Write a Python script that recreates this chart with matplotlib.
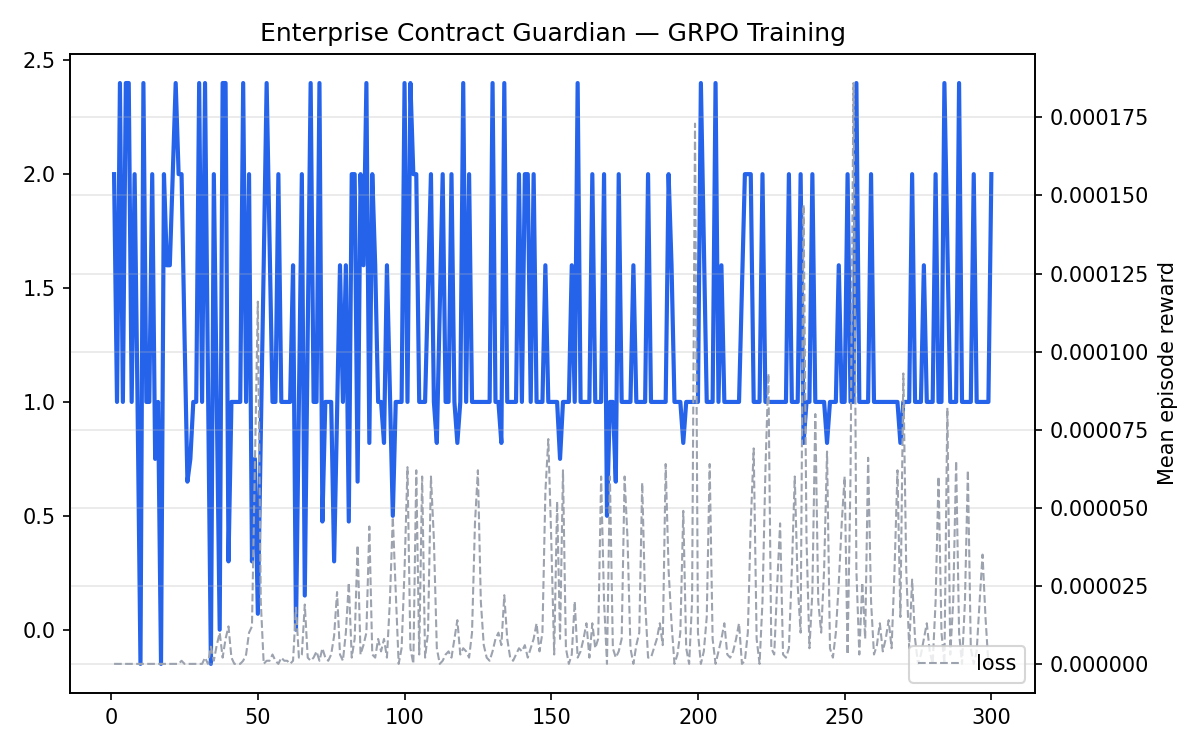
import matplotlib
matplotlib.use("Agg")
import matplotlib.pyplot as plt
from matplotlib.ticker import FormatStrFormatter
import numpy as np

steps = list(range(1, 301))

reward = [
    2.0, 1.0, 2.4, 1.0, 2.4, 2.4, 1.0, 2.0, 1.0, -0.15,
    2.4, 1.0, 1.0, 2.0, 0.75, 1.0, -0.15, 2.0, 1.6, 1.6,
    2.0, 2.4, 2.0, 2.0, 1.3, 0.65, 0.75, 1.0, 1.0, 2.4,
    1.0, 2.4, 1.1, -0.15, 2.0, 1.0, 0.0, 2.4, 2.4, 0.3,
    1.0, 1.0, 1.0, 1.0, 2.4, 1.0, 2.0, 0.3, 0.75, 0.07,
    0.85, 1.6, 2.4, 1.7, 1.0, 1.0, 2.0, 1.0, 1.0, 1.0,
    1.0, 1.6, 0.0, 1.0, 2.0, 0.15, 1.3, 2.4, 1.0, 1.0,
    2.4, 0.475, 1.0, 1.0, 1.0, 0.3, 0.95, 1.6, 1.0, 1.6,
    0.475, 2.0, 2.0, 0.65, 2.0, 1.6, 2.4, 0.82, 2.0, 1.6,
    1.0, 1.0, 0.82, 1.6, 1.05, 0.5, 1.0, 1.0, 1.0, 2.4,
    1.0, 2.4, 2.0, 2.0, 1.0, 1.0, 1.0, 1.5, 2.0, 1.0,
    0.82, 1.4, 2.0, 1.0, 1.0, 2.0, 1.0, 0.82, 1.0, 2.4,
    1.0, 2.0, 1.0, 1.0, 1.0, 1.0, 1.0, 1.0, 1.0, 2.4,
    1.0, 1.0, 0.82, 2.4, 1.0, 1.0, 1.0, 1.0, 2.0, 1.0,
    2.0, 2.0, 1.0, 2.0, 1.0, 1.0, 1.0, 1.6, 1.0, 1.0,
    1.0, 1.0, 0.75, 1.0, 1.0, 1.0, 1.6, 1.0, 2.4, 1.0,
    1.0, 1.0, 1.0, 2.0, 1.0, 1.0, 1.0, 2.0, 0.5, 1.0,
    1.0, 0.65, 2.0, 1.0, 1.0, 1.0, 1.0, 1.6, 1.0, 1.0,
    1.0, 1.0, 2.0, 1.0, 1.0, 1.0, 1.0, 1.0, 1.0, 2.0,
    1.6, 1.0, 1.0, 1.0, 0.82, 1.0, 1.0, 1.0, 1.0, 1.0,
    2.4, 1.7, 1.0, 1.0, 1.0, 2.4, 1.0, 1.6, 1.0, 1.0,
    1.0, 1.0, 1.0, 1.0, 1.5, 2.0, 2.0, 2.0, 1.0, 1.0,
    1.0, 2.0, 1.0, 1.0, 1.0, 1.0, 1.0, 1.0, 1.0, 1.0,
    2.0, 1.0, 1.0, 1.0, 2.0, 0.82, 1.0, 1.0, 2.0, 1.0,
    1.0, 1.0, 1.0, 0.82, 1.0, 1.0, 1.0, 1.6, 1.0, 1.0,
    2.0, 1.0, 1.0, 2.4, 1.0, 1.0, 1.0, 1.0, 2.0, 1.0,
    1.0, 1.0, 1.0, 1.0, 1.0, 1.0, 1.0, 1.0, 0.82, 1.0,
    1.0, 1.0, 2.0, 1.0, 1.0, 1.0, 1.6, 1.0, 1.0, 1.0,
    2.0, 1.0, 1.0, 2.4, 1.7, 1.0, 1.0, 1.0, 2.4, 1.0,
    1.0, 1.0, 1.0, 2.0, 1.0, 1.0, 1.0, 1.0, 1.0, 2.0,
]

# loss, in units of 1e-6
loss_e6 = [
    0, 0, 0, 0, 0, 0, 0, 0, 0, 0,
    0, 0, 0, 0, 0, 0, 0, 0, 0, 0,
    0, 0, 0, 1, 0, 0, 0, 0, 0, 0,
    0, 2, 0, 5.5, 1, 6, 10, 2, 8, 12,
    2, 0, 0, 0, 1, 3, 10, 12, 65, 116,
    20, 0, 1, 1, 3, 1, 0, 2, 1, 1,
    0, 1, 18, 2, 3, 19, 2, 1, 2, 4,
    1, 5, 2, 1, 3, 9, 23, 3, 1, 10,
    26, 2, 8, 38, 3, 6, 10, 44, 3, 2,
    8, 4, 8, 2, 20, 47, 23, 0, 5, 30,
    63, 5, 0, 62, 3, 60, 2, 10, 60, 40,
    5, 0, 1, 3, 4, 2, 8, 14, 3, 5,
    4, 2, 10, 45, 62, 20, 6, 2, 1, 4,
    8, 10, 6, 22, 8, 2, 1, 3, 5, 4,
    6, 2, 5, 8, 13, 4, 10, 55, 72, 40,
    3, 52, 8, 62, 5, 0, 3, 20, 2, 4,
    8, 13, 2, 13, 5, 8, 60, 20, 0, 60,
    5, 2, 4, 8, 60, 40, 5, 0, 6, 10,
    58, 20, 2, 2, 5, 8, 13, 6, 64, 30,
    13, 0, 3, 10, 49, 5, 0, 20, 173, 10,
    0, 4, 15, 64, 8, 0, 4, 8, 13, 3,
    2, 4, 8, 13, 0, 1, 10, 45, 69, 8,
    0, 20, 62, 93, 5, 3, 25, 45, 3, 2,
    5, 30, 60, 25, 10, 147, 40, 5, 23, 80,
    20, 10, 30, 68, 5, 2, 10, 26, 45, 60,
    3, 60, 186, 30, 3, 26, 8, 66, 20, 3,
    6, 13, 4, 8, 14, 5, 30, 62, 15, 93,
    30, 5, 27, 8, 0, 3, 8, 13, 4, 0,
    20, 60, 10, 0, 82, 3, 20, 65, 10, 0,
    20, 62, 5, 0, 4, 20, 35, 15, 0, 0,
]

loss = np.array(loss_e6) * 1e-6

fig, ax = plt.subplots(figsize=(8, 5), dpi=150)

ax.plot(steps, reward, color="#2563eb", linewidth=2)

ax2 = ax.twinx()
ax2.plot(steps, loss, color="#9ca3af", linestyle="--", linewidth=1, label="loss")
ax2.yaxis.set_major_formatter(FormatStrFormatter("%.6f"))
ax2.set_ylabel("Mean episode reward")
ax2.grid(axis="y", alpha=0.3)
ax2.legend(loc="lower right")

ax.set_title("Enterprise Contract Guardian — GRPO Training")

fig.tight_layout()
fig.savefig("out.png")
